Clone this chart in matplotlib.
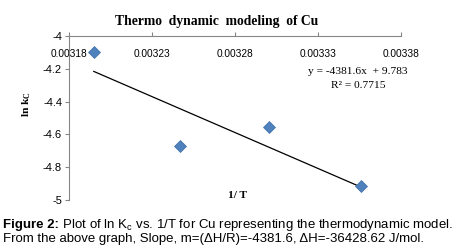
import matplotlib
matplotlib.use("Agg")
import matplotlib.pyplot as plt

# data: 1/T and ln Kc
inv_t = [0.0031949, 0.0032468, 0.0033003, 0.0033557]
ln_kc = [-4.099, -4.671, -4.557, -4.915]

# reported linear fit
slope = -4381.6
intercept = 9.783
r2 = 0.7715

x_ticks = [0.00318, 0.00323, 0.00328, 0.00333, 0.00338]
x_tick_labels = ["0.00318", "0.00323", "0.00328", "0.00333", "0.00338"]
y_ticks = [-5, -4.8, -4.6, -4.4, -4.2, -4]
y_tick_labels = ["-5", "-4.8", "-4.6", "-4.4", "-4.2", "-4"]

plt.rcParams["mathtext.fontset"] = "custom"
plt.rcParams["mathtext.rm"] = "Liberation Sans"
plt.rcParams["mathtext.bf"] = "Liberation Sans:bold"
plt.rcParams["mathtext.default"] = "regular"

serif = "Liberation Serif"
sans = "Liberation Sans"
grey = "#868686"

fig = plt.figure(figsize=(4.55, 2.52), dpi=100)
W, H = 455, 252
ax = fig.add_axes([69 / W, 1 - 200 / H, (401 - 69) / W, (200 - 36) / H])

ax.plot(inv_t, ln_kc, linestyle="none", marker="D", markersize=6.2,
        color="#4F81BD", markeredgecolor="#3F6FA8", markeredgewidth=0.5, zorder=3)

x_fit = [min(inv_t), max(inv_t)]
y_fit = [slope * x + intercept for x in x_fit]
ax.plot(x_fit, y_fit, color="black", linewidth=0.9, zorder=2)

ax.set_xlim(x_ticks[0], x_ticks[-1])
ax.set_ylim(-5, -4)

ax.spines["right"].set_visible(False)
ax.spines["bottom"].set_visible(False)
for s in ("left", "top"):
    ax.spines[s].set_color(grey)
    ax.spines[s].set_linewidth(0.8)

ax.set_xticks(x_ticks)
ax.set_xticklabels(x_tick_labels, fontfamily=sans, fontsize=7.3)
ax.set_yticks(y_ticks)
ax.set_yticklabels(y_tick_labels, fontfamily=sans, fontsize=8)
ax.tick_params(axis="x", top=True, bottom=False, labeltop=True, labelbottom=False,
               direction="out", length=3, color=grey, pad=-19.5)
ax.tick_params(axis="y", direction="out", length=3, color=grey, pad=2)

fig.text(217 / W, 1 - 21 / H, "Thermo  dynamic  modeling  of Cu", fontfamily=serif,
         fontweight="bold", fontsize=9.8, ha="center", va="center")
fig.text(237 / W, 1 - 196 / H, "1/ T", fontfamily=serif, fontweight="bold",
         fontsize=8.2, ha="center", va="center")
fig.text(27 / W, 1 - 104 / H, r"ln k$_{C}$", fontfamily=serif, fontweight="bold",
         fontsize=8.2, ha="center", va="center", rotation=90)

fig.text(358 / W, 1 - 72 / H, f"y = {slope}x  + {intercept}", fontfamily=serif,
         fontsize=8.2, ha="center", va="center")
fig.text(358 / W, 1 - 85 / H, f"R\u00b2 = {r2}", fontfamily=serif,
         fontsize=8.2, ha="center", va="center")

# caption: bold lead-in followed by regular text
renderer = fig.canvas.get_renderer()
lead = fig.text(3 / W, 1 - 225 / H, "Figure 2:", fontfamily=sans, fontweight="bold",
                fontsize=9.5, ha="left", va="center")
bb = lead.get_window_extent(renderer)
fig.text(bb.x1 / W, 1 - 225 / H,
         r" Plot of ln K$_c$ vs. 1/T for Cu representing the thermodynamic model.",
         fontfamily=sans, fontsize=9.5, ha="left", va="center")
fig.text(3 / W, 1 - 239 / H,
         "From the above graph, Slope, m=(\u0394H/R)=-4381.6, \u0394H=-36428.62 J/mol.",
         fontfamily=sans, fontsize=9.5, ha="left", va="center")

fig.savefig("out.png", dpi=100)
